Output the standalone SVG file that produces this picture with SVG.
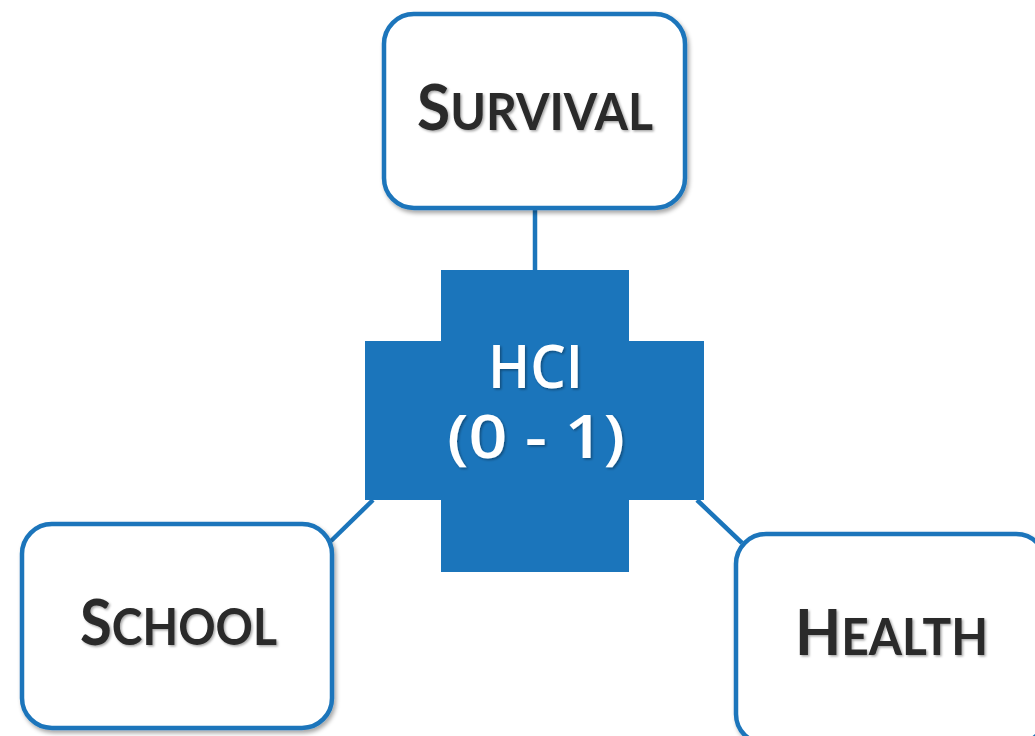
<svg xmlns="http://www.w3.org/2000/svg" width="1035" height="736" viewBox="0 0 1035 736">
<defs>
<filter id="sh" x="-10%" y="-10%" width="130%" height="130%">
<feDropShadow dx="2" dy="3" stdDeviation="2" flood-color="#000" flood-opacity="0.35"/>
</filter>
<filter id="tsh" x="-10%" y="-20%" width="130%" height="150%">
<feDropShadow dx="1.5" dy="1.5" stdDeviation="1" flood-color="#000" flood-opacity="0.35"/>
</filter>
</defs>
<style>
.box{fill:#fff;stroke:#1b75bb;stroke-width:4.5;filter:url(#sh)}
.conn{stroke:#1b75bb;stroke-width:4.5;fill:none}
.lbl{font-family:Lato,"Liberation Sans",sans-serif;font-weight:700;fill:#2a2a2a;filter:url(#tsh)}
.big{font-size:64px}
.sm{font-size:51px}
.hci{font-family:"Open Sans","Liberation Sans",sans-serif;font-weight:600;fill:#fff;font-size:60px;filter:url(#tsh)}
</style>
<rect width="1035" height="736" fill="#fff"/>
<g id="connectors">
<line class="conn" x1="535" y1="208" x2="535" y2="272"/>
<line class="conn" x1="331" y1="541" x2="373" y2="500"/>
<line class="conn" x1="697" y1="500" x2="742" y2="543"/>
</g>
<g id="hci">
<path d="M441 270H629V341H704V500H629V572H441V500H365V341H441Z" fill="#1b75bb"/>
<text class="hci" x="488" y="388" textLength="95" lengthAdjust="spacingAndGlyphs">HCI</text>
<text class="hci" x="447" y="458" textLength="178" lengthAdjust="spacingAndGlyphs">(0 - 1)</text>
</g>
<g id="survival">
<rect class="box" x="384" y="14" width="301" height="194" rx="30"/>
<text class="lbl" x="417" y="130" textLength="236" lengthAdjust="spacingAndGlyphs"><tspan class="big">S</tspan><tspan class="sm">URVIVAL</tspan></text>
</g>
<g id="school">
<rect class="box" x="22" y="524" width="310" height="204" rx="30"/>
<text class="lbl" x="80" y="645" textLength="197" lengthAdjust="spacingAndGlyphs"><tspan class="big">S</tspan><tspan class="sm">CHOOL</tspan></text>
</g>
<g id="health">
<rect class="box" x="736" y="534" width="310" height="210" rx="30"/>
<text class="lbl" x="795" y="655" textLength="193" lengthAdjust="spacingAndGlyphs"><tspan class="big">H</tspan><tspan class="sm">EALTH</tspan></text>
</g>
</svg>
